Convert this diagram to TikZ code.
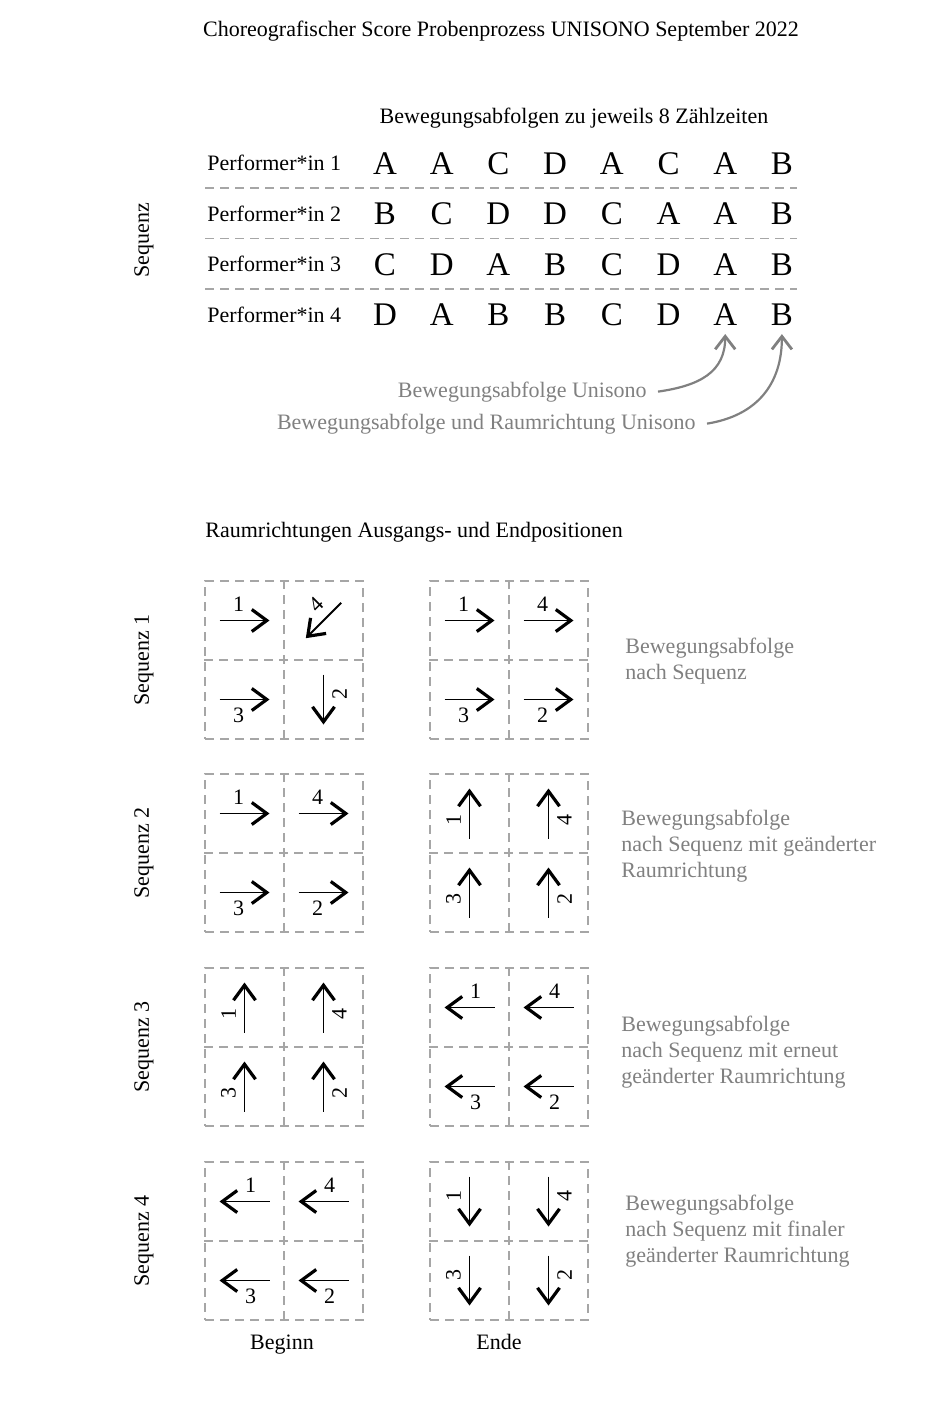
\documentclass[tikz,border=0pt]{standalone}
\usepackage{fontspec}
\setmainfont{Liberation Serif}
\usetikzlibrary{arrows.meta}
\definecolor{cNote}{HTML}{808080}
\definecolor{cDash}{HTML}{A6A6A6}

\begin{document}
\begin{tikzpicture}[
  x=0.5pt, y=-0.5pt,
  font=\fontsize{11}{13}\selectfont,
  >={Straight Barb[length=7.5pt, width=11pt, line width=1.6pt]},
  txt/.style={inner sep=0pt},
  letter/.style={inner sep=0pt, anchor=base, font=\fontsize{16.5}{18}\selectfont},
  note/.style={inner sep=0pt, text=cNote, align=left, anchor=north west},
  divider/.style={draw=cDash, line width=0.9pt, dash pattern=on 4.5pt off 3pt},
  grid/.style={divider, minimum size=79pt, inner sep=0pt},
  move/.style={->, line width=0.9pt},
  unison/.style={-{Straight Barb[length=6.5pt, width=10pt, line width=1.4pt]},
                 draw=cNote, line width=1.1pt},
]
\useasboundingbox (0,0) rectangle (945,1418);

% ---- Title ---------------------------------------------------------------
\node[txt, anchor=base] (title) at (501,37)
  {Choreografischer Score Probenprozess UNISONO September 2022};

% ---- Sequence table ------------------------------------------------------
\node[txt, anchor=base] (head) at (574,124)
  {Bewegungsabfolgen zu jeweils 8 Zählzeiten};
\node[txt, rotate=90] (seq) at (144,240) {Sequenz};

\foreach \row [count=\i] in {{A,A,C,D,A,C,A,B}, {B,C,D,D,C,A,A,B},
                             {C,D,A,B,C,D,A,B}, {D,A,B,B,C,D,A,B}} {
  \node[txt, anchor=base west] (p\i) at (207,120.5+50.4*\i) {Performer*in \i};
  \foreach \l [count=\j] in \row {
    \node[letter] (l\i\j) at (328.3+56.7*\j,124+50.4*\i) {\l};
  }
}
\foreach \i in {1,2,3} {
  \draw[divider] (205,137.6+50.4*\i) -- (797,137.6+50.4*\i);
}

% unison annotations
\node[txt, text=cNote, anchor=base east] (u1) at (647,397)
  {Bewegungsabfolge Unisono};
\node[txt, text=cNote, anchor=base east] (u2) at (696,429)
  {Bewegungsabfolge und Raumrichtung Unisono};
\draw[unison] ([xshift=5.5pt]u1.east) .. controls +(42,-6) and +(0,38)
  .. ([yshift=-4pt]l47.south);
\draw[unison] ([xshift=5.5pt]u2.east) .. controls +(50,-8) and +(0,50)
  .. ([yshift=-4pt]l48.south);

% ---- Spatial directions --------------------------------------------------
\node[txt, anchor=base west] (raum) at (205,537)
  {Raumrichtungen Ausgangs- und Endpositionen};

\foreach \k/\gy/\dx/\dy/\desc in {
    1/581/625/638/{Bewegungsabfolge\\nach Sequenz},
    2/774/621/810/{Bewegungsabfolge\\nach Sequenz mit geänderter\\Raumrichtung},
    3/968/621/1016/{Bewegungsabfolge\\nach Sequenz mit erneut\\geänderter Raumrichtung},
    4/1162/625/1195/{Bewegungsabfolge\\nach Sequenz mit finaler\\geänderter Raumrichtung}} {
  \node[txt, rotate=90] (s\k) at (144,\gy+79) {Sequenz \k};
  \node[grid] (b\k) at (284,\gy+79) {};
  \node[grid] (e\k) at (509,\gy+79) {};
  \foreach \g in {b\k,e\k} {
    \draw[divider] (\g.north) -- (\g.south);
    \draw[divider] (\g.west) -- (\g.east);
  }
  \node[note] (d\k) at (\dx,\dy) {\desc};
}

% arrows: cell centre / direction / label side / label rotation / performer
\foreach \mx/\my/\a/\o/\r/\n in {
    244.5/620.5/0/-16/0/1,    323.5/620.5/225/16/45/4,
    244.5/699.5/0/16/0/3,     323.5/699.5/270/-16/90/2,
    469.5/620.5/0/-16/0/1,    548.5/620.5/0/-16/0/4,
    469.5/699.5/0/16/0/3,     548.5/699.5/0/16/0/2,
    244.5/813.5/0/-16/0/1,    323.5/813.5/0/-16/0/4,
    244.5/892.5/0/16/0/3,     323.5/892.5/0/16/0/2,
    469.5/813.5/90/-16/90/1,  548.5/813.5/90/16/90/4,
    469.5/892.5/90/-16/90/3,  548.5/892.5/90/16/90/2,
    244.5/1007.5/90/-16/90/1, 323.5/1007.5/90/16/90/4,
    244.5/1086.5/90/-16/90/3, 323.5/1086.5/90/16/90/2,
    469.5/1007.5/180/16/0/1,  548.5/1007.5/180/16/0/4,
    469.5/1086.5/180/-16/0/3, 548.5/1086.5/180/-16/0/2,
    244.5/1201.5/180/16/0/1,  323.5/1201.5/180/16/0/4,
    244.5/1280.5/180/-16/0/3, 323.5/1280.5/180/-16/0/2,
    469.5/1201.5/270/16/90/1, 548.5/1201.5/270/-16/90/4,
    469.5/1280.5/270/16/90/3, 548.5/1280.5/270/-16/90/2} {
  \begin{scope}[shift={(\mx,\my)}, rotate=\a]
    \draw[move] (-25,0) -- (25,0);
    \node[txt, rotate=\r] (n\mx-\my) at (-6,\o) {\n};
  \end{scope}
}

\node[txt, anchor=base] (beginn) at (282,1349) {Beginn};
\node[txt, anchor=base] (ende) at (499,1349) {Ende};

\end{tikzpicture}
\end{document}
